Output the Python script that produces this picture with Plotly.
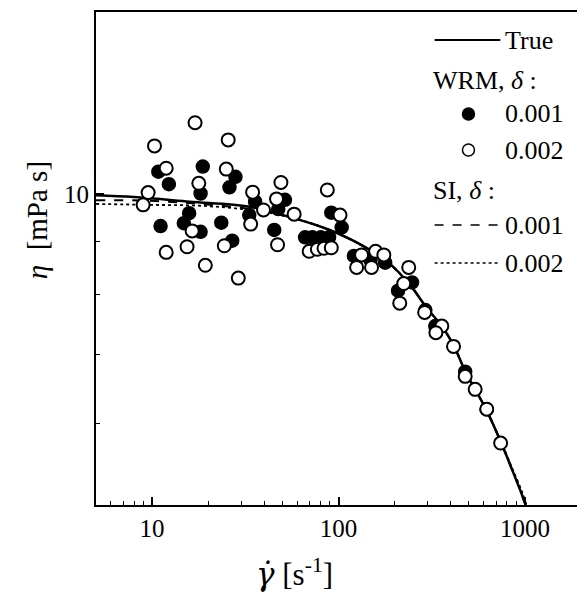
import plotly.graph_objects as go
import math

# ---- data ----
# WRM, delta = 0.001 (filled circles)
wrm1_x = [10.8, 12.3, 18.7, 18.2, 28.0, 26.0, 11.1, 15.8, 14.8, 18.2, 23.5, 26.9,
          35.7, 33.2, 51.6, 47.5, 45.2, 91.5, 104.0, 66.2, 72.4, 80.3, 89.0,
          121.0, 148.6, 178.0, 208.7, 248.0, 292.4, 330.6, 478.3, 624.0]
wrm1_y = [10.51, 10.22, 10.63, 10.01, 10.39, 10.15, 9.31, 9.58, 9.37, 9.19, 9.38, 9.01,
          9.83, 9.54, 9.87, 9.67, 9.23, 9.59, 9.28, 9.08, 9.08, 9.08, 9.08,
          8.71, 8.63, 8.58, 8.06, 8.21, 7.72, 7.45, 6.73, 6.19]

# WRM, delta = 0.002 (open circles)
wrm2_x = [17.0, 25.6, 10.3, 11.9, 25.0, 17.8, 49.1, 87.1, 9.52, 34.6, 8.95, 46.5,
          39.6, 57.8, 101.9, 16.4, 33.8, 15.4, 24.4, 47.1, 11.9, 19.3, 29.0,
          69.6, 77.0, 83.6, 91.5, 133.0, 158.1, 175.1, 125.1, 150.4, 238.1,
          223.9, 213.1, 289.9, 358.5, 333.1, 414.1, 478.3, 541.0, 624.0, 741.0]
wrm2_y = [11.72, 11.28, 11.13, 10.59, 10.57, 10.24, 10.26, 10.09, 10.03, 10.04, 9.76, 9.89,
          9.65, 9.56, 9.54, 9.21, 9.35, 8.89, 8.91, 8.93, 8.78, 8.53, 8.29,
          8.80, 8.84, 8.86, 8.87, 8.73, 8.80, 8.73, 8.49, 8.49, 8.49,
          8.19, 7.84, 7.68, 7.45, 7.34, 7.12, 6.66, 6.47, 6.19, 5.74]

# True curve
true_x = [5.0, 8.0, 15.9, 33.2, 54.4, 82.6, 120.0, 181.0, 240.0, 297.0, 358.0,
          414.0, 478.0, 541.0, 624.0, 741.0, 850.0, 959.0, 1020.0]
true_y = [9.97, 9.93, 9.83, 9.72, 9.50, 9.28, 9.01, 8.61, 8.18, 7.76, 7.45,
          7.14, 6.74, 6.47, 6.17, 5.76, 5.42, 5.13, 4.97]

# SI, delta = 0.001 (dashed)
si1_x = [5.0, 9.6, 18.0, 33.2, 54.4, 82.6, 120.0, 181.0, 240.0, 297.0, 358.0,
         414.0, 478.0, 541.0, 624.0, 741.0, 850.0, 959.0, 1020.0]
si1_y = [9.86, 9.85, 9.78, 9.67, 9.50, 9.28, 9.01, 8.61, 8.18, 7.76, 7.45,
         7.14, 6.74, 6.47, 6.17, 5.76, 5.42, 5.13, 4.97]

# SI, delta = 0.002 (dotted)
si2_x = [5.0, 9.6, 18.1, 33.2, 54.4, 82.6, 120.0, 181.0, 240.0, 297.0, 358.0,
         414.0, 478.0, 541.0, 624.0, 741.0, 850.0, 965.0, 1030.0]
si2_y = [9.78, 9.76, 9.74, 9.65, 9.50, 9.28, 9.01, 8.61, 8.18, 7.76, 7.45,
         7.14, 6.74, 6.47, 6.17, 5.77, 5.44, 5.15, 4.97]

x_ticks = [10, 100, 1000]
x_tick_labels = ["10", "100", "1000"]
y_ticks = [10]
y_tick_labels = ["10"]
x_minor = [6, 7, 8, 9, 20, 30, 40, 50, 60, 70, 80, 90, 200, 300, 400, 500, 600, 700, 800, 900]
y_minor = [6, 7, 8, 9]

SERIF = "Liberation Serif, Times New Roman, serif"

fig = go.Figure()
fig.add_trace(go.Scatter(x=si2_x, y=si2_y, mode="lines", line=dict(color="black", width=1.8, dash="dot"),
                         line_shape="spline", showlegend=False))
fig.add_trace(go.Scatter(x=si1_x, y=si1_y, mode="lines", line=dict(color="black", width=2, dash="dash"),
                         line_shape="spline", showlegend=False))
fig.add_trace(go.Scatter(x=true_x, y=true_y, mode="lines", line=dict(color="black", width=2.5),
                         line_shape="spline", showlegend=False))
fig.add_trace(go.Scatter(x=wrm1_x, y=wrm1_y, mode="markers",
                         marker=dict(symbol="circle", size=13, color="black", line=dict(color="black", width=1.5)),
                         showlegend=False))
fig.add_trace(go.Scatter(x=wrm2_x, y=wrm2_y, mode="markers",
                         marker=dict(symbol="circle", size=13, color="white", line=dict(color="black", width=2)),
                         showlegend=False))

# page body has an 8px margin: the figure starts at (8, 8)
OFF = 8
PL, PR, PT, PB = 96, 583, 12, 505   # plot area in page pixels
W, H = 577, 591
L, T = PL - OFF, PT - OFF
R = OFF + W - PR
B = OFF + H - PB
pw, ph = PR - PL, PB - PT

def px(xp):
    return (xp - PL) / pw

def py(yp):
    return (PB - yp) / ph

shapes = []
annotations = []
# white legend background hiding the frame (as in the reference)
shapes.append(dict(type="rect", xref="paper", yref="paper", x0=px(425), x1=px(600), y0=py(232), y1=py(22),
                   fillcolor="white", line=dict(width=0), layer="above"))
leg_font = dict(family=SERIF, size=26, color="black")
rows = [
    ("line", "solid", 40, "True"),
    ("title", None, 80, "WRM, <i>δ</i> :"),
    ("dot", "filled", 114, "0.001"),
    ("dot", "open", 150, "0.002"),
    ("title", None, 190, "SI, <i>δ</i> :"),
    ("line", "dash", 225, "0.001"),
    ("line", "dot", 263, "0.002"),
]
for kind, style, yp, text in rows:
    if kind == "title":
        annotations.append(dict(xref="paper", yref="paper", x=px(432), y=py(yp), text=text, showarrow=False,
                                xanchor="left", yanchor="middle", font=leg_font))
        continue
    if kind == "line":
        shapes.append(dict(type="line", xref="paper", yref="paper", x0=px(436), x1=px(502), y0=py(yp), y1=py(yp),
                           line=dict(color="black", width=1.5 if style != "solid" else 2, dash=style), layer="above"))
    else:
        r = 6
        shapes.append(dict(type="circle", xref="paper", yref="paper", xsizemode="pixel", ysizemode="pixel",
                           xanchor=px(470), yanchor=py(yp), x0=-r, x1=r, y0=-r, y1=r,
                           fillcolor="black" if style == "filled" else "white",
                           line=dict(color="black", width=1.5), layer="above"))
    annotations.append(dict(xref="paper", yref="paper", x=px(505), y=py(yp), text=text, showarrow=False,
                            xanchor="left", yanchor="middle", font=leg_font))

# axis titles
annotations.append(dict(xref="paper", yref="paper", x=px(295), y=py(572),
                        text="<span style='font-family:DejaVu Serif'><i>γ̇</i></span> [s<sup>-1</sup>]",
                        showarrow=False, xanchor="center", yanchor="middle",
                        font=dict(family=SERIF, size=31, color="black")))
annotations.append(dict(xref="paper", yref="paper", x=px(37), y=py(220), text="<i>η</i>  [mPa s]",
                        showarrow=False, xanchor="center", yanchor="middle", textangle=-90,
                        font=dict(family=SERIF, size=29, color="black")))

fig.update_layout(
    width=W, height=H,
    margin=dict(l=L, r=R, t=T, b=B, pad=0),
    paper_bgcolor="white", plot_bgcolor="white",
    showlegend=False,
    shapes=shapes, annotations=annotations,
    font=dict(family=SERIF, color="black"),
)
fig.update_xaxes(type="log", range=[math.log10(5), math.log10(2000)],
                 tickvals=x_ticks, ticktext=x_tick_labels, ticks="inside", ticklen=8, tickwidth=1.5,
                 tickcolor="black", tickfont=dict(family=SERIF, size=25, color="black"),
                 minor=dict(tickvals=x_minor, ticks="inside", ticklen=4, tickwidth=1.2, tickcolor="black"),
                 showline=True, linecolor="black", linewidth=2, mirror=True, showgrid=False, zeroline=False)
fig.update_yaxes(type="log", range=[math.log10(5), math.log10(15)],
                 tickvals=y_ticks, ticktext=y_tick_labels, ticks="inside", ticklen=8, tickwidth=1.5,
                 tickcolor="black", tickfont=dict(family=SERIF, size=25, color="black"),
                 minor=dict(tickvals=y_minor, ticks="inside", ticklen=4, tickwidth=1.2, tickcolor="black"),
                 showline=True, linecolor="black", linewidth=2, mirror=True, showgrid=False, zeroline=False)

fig.write_html("out.html")
